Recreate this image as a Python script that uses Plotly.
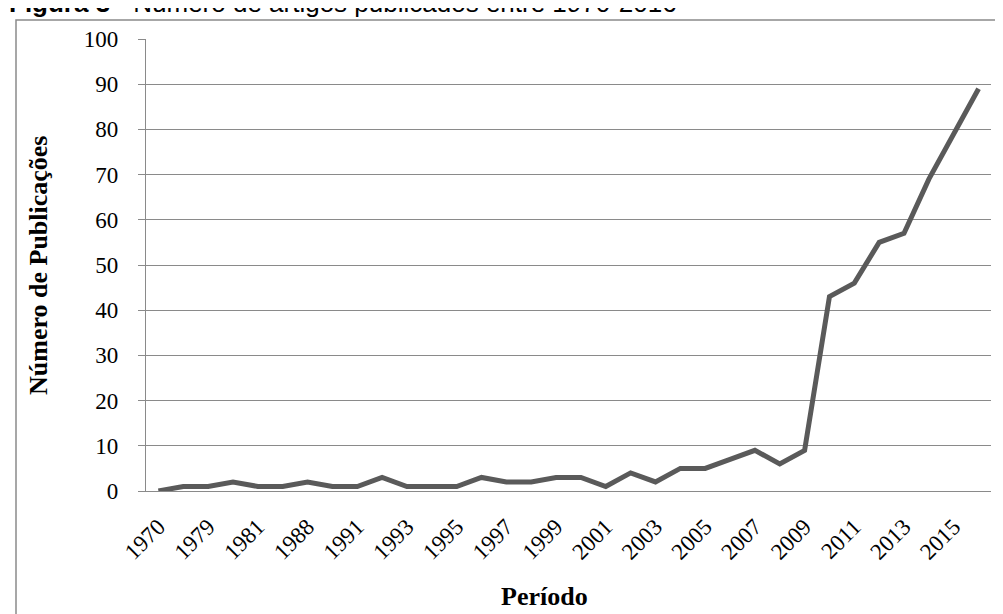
import plotly.graph_objects as go

# Data
categories = ["1970", "1978", "1979", "1980", "1981", "1986", "1988", "1990",
              "1991", "1992", "1993", "1994", "1995", "1996", "1997", "1998",
              "1999", "2000", "2001", "2002", "2003", "2004", "2005", "2006",
              "2007", "2008", "2009", "2010", "2011", "2012", "2013", "2014",
              "2015", "2016"]
publicacoes = [0, 1, 1, 2, 1, 1, 2, 1, 1, 3, 1, 1, 1, 3, 2, 2,
               3, 3, 1, 4, 2, 5, 5, 7, 9, 6, 9, 43, 46, 55, 57, 69,
               79, 89]
tick_labels = categories[::2]
y_ticks = list(range(0, 101, 10))

title_text = "<b>Figura 3</b> - Número de artigos publicados entre 1970-2016"
y_title = "Número de Publicações"
x_title = "Período"

# Layout geometry (pixels)
W, H = 1003, 614
L, R, T, B = 138, 983, 31, 483
pw, ph = R - L, B - T


def px(x):
    return (x - L) / pw


def py(y):
    return (B - y) / ph


grid = "#8a8a8a"

fig = go.Figure()
fig.add_trace(go.Scatter(
    x=categories, y=publicacoes, mode="lines",
    line=dict(color="#5a5a5a", width=5), showlegend=False,
    hoverinfo="x+y",
))

fig.update_layout(
    width=W, height=H,
    margin=dict(l=L, r=W - R, t=T, b=H - B, pad=0),
    paper_bgcolor="white", plot_bgcolor="white",
    font=dict(family="Liberation Serif", size=23, color="black"),
    xaxis=dict(
        type="category", range=[-0.5, len(categories) - 0.5],
        tickmode="array", tickvals=tick_labels, ticktext=tick_labels,
        tickangle=-45, showgrid=False, showline=True, linecolor=grid,
        linewidth=1.3, ticks="", ticklabelstandoff=12,
        tickfont=dict(family="Liberation Serif", size=23, color="black"),
    ),
    yaxis=dict(
        range=[0, 100], tickmode="array", tickvals=y_ticks,
        showgrid=True, gridcolor=grid, gridwidth=1.3,
        showline=True, linecolor=grid, linewidth=1.3,
        ticks="outside", ticklen=7, tickcolor=grid, tickwidth=1.3,
        ticklabelstandoff=15, zeroline=False,
        tickfont=dict(family="Liberation Serif", size=23, color="black"),
    ),
    shapes=[dict(
        type="rect", xref="paper", yref="paper",
        x0=px(8), x1=px(995), y0=py(640), y1=py(12),
        line=dict(color="#8a8a8a", width=1.5), fillcolor="rgba(0,0,0,0)",
        layer="below",
    )],
    annotations=[
        dict(text=title_text, xref="paper", yref="paper",
             x=px(-1), y=py(-5), xanchor="left", yanchor="middle",
             showarrow=False,
             font=dict(family="Liberation Sans", size=26, color="black")),
        dict(text=f"<b>{y_title}</b>", xref="paper", yref="paper",
             x=px(30), y=py(257), xanchor="center", yanchor="middle",
             textangle=-90, showarrow=False,
             font=dict(family="Liberation Serif", size=26, color="black")),
        dict(text=f"<b>{x_title}</b>", xref="paper", yref="paper",
             x=px(536), y=py(588), xanchor="center", yanchor="middle",
             showarrow=False,
             font=dict(family="Liberation Serif", size=26, color="black")),
    ],
)

fig.write_html("out.html")
